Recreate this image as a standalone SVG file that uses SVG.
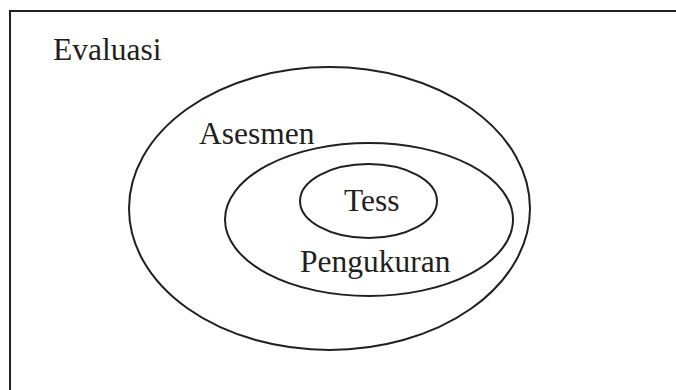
<svg xmlns="http://www.w3.org/2000/svg" width="676" height="390" viewBox="0 0 676 390">
<style>
.ln{fill:none;stroke:#231f20;stroke-width:2}
.t{font-family:"Liberation Serif","Times New Roman",serif;font-size:31.5px;fill:#231f20}
</style>
<rect width="676" height="390" fill="#fff"/>
<g id="frame"><path class="ln" d="M10,400 V11 H690"/><text class="t" x="53" y="60">Evaluasi</text></g>
<g id="asesmen"><ellipse class="ln" cx="329.5" cy="208.5" rx="200.5" ry="141.5"/><text class="t" x="199" y="144">Asesmen</text></g>
<g id="pengukuran"><ellipse class="ln" cx="369" cy="219.5" rx="144" ry="76.5"/><text class="t" x="300" y="272">Pengukuran</text></g>
<g id="tess"><ellipse class="ln" cx="368.5" cy="201" rx="68.5" ry="37"/><text class="t" x="344" y="211">Tess</text></g>
<g id="connectors"></g>
</svg>
